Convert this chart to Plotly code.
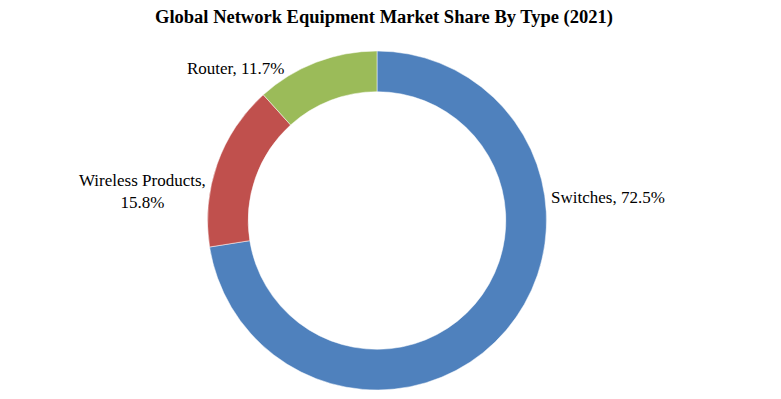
import plotly.graph_objects as go

categories = ["Switches", "Wireless Products", "Router"]
shares = [72.5, 15.8, 11.7]
colors = ["#4F81BD", "#C0504D", "#9BBB59"]
title_text = "Global Network Equipment Market Share By Type (2021)"

# page body has an 8px margin: figure drawn in screen coords minus 8
OFF = 8
W, H = 781 - OFF, 399 - OFF
top_px, bot_px = 51 - OFF, 390 - OFF
mt, mb = top_px, H - bot_px
ph = H - mt - mb

def px_x(x):
    return (x - OFF) / W

def px_y(y):
    return (H - mb - (y - OFF)) / ph

cx = px_x(377)
fig = go.Figure(go.Pie(
    labels=categories,
    values=shares,
    hole=0.76,
    sort=False,
    direction="clockwise",
    rotation=0,
    marker=dict(colors=colors, line=dict(color="white", width=0.5)),
    textinfo="none",
    hoverinfo="label+percent",
    domain=dict(x=[cx - 0.25, cx + 0.25], y=[0, 1]),
    showlegend=False,
))

label_pos = {
    "Switches": (549, 197, "left", "{c}, {v}%"),
    "Wireless Products": (142, 191, "center", "{c},<br>{v}%"),
    "Router": (235, 68, "center", "{c}, {v}%"),
}
for c, v in zip(categories, shares):
    x, y, anchor, tpl = label_pos[c]
    fig.add_annotation(
        x=px_x(x), y=px_y(y), xref="paper", yref="paper",
        text=tpl.format(c=c, v=v), showarrow=False,
        xanchor=anchor, yanchor="middle", align="center",
        font=dict(family="Liberation Serif", size=17, color="black"),
    )

fig.update_layout(
    width=W, height=H,
    margin=dict(l=0, r=0, t=mt, b=mb),
    paper_bgcolor="white", plot_bgcolor="white",
    title=dict(
        text="<b>" + title_text + "</b>",
        x=(384 - OFF) / W, xanchor="center", y=1 - (17 - OFF) / H, yanchor="middle",
        font=dict(family="Liberation Serif", size=18.5, color="black"),
    ),
)

fig.write_html("out.html")
